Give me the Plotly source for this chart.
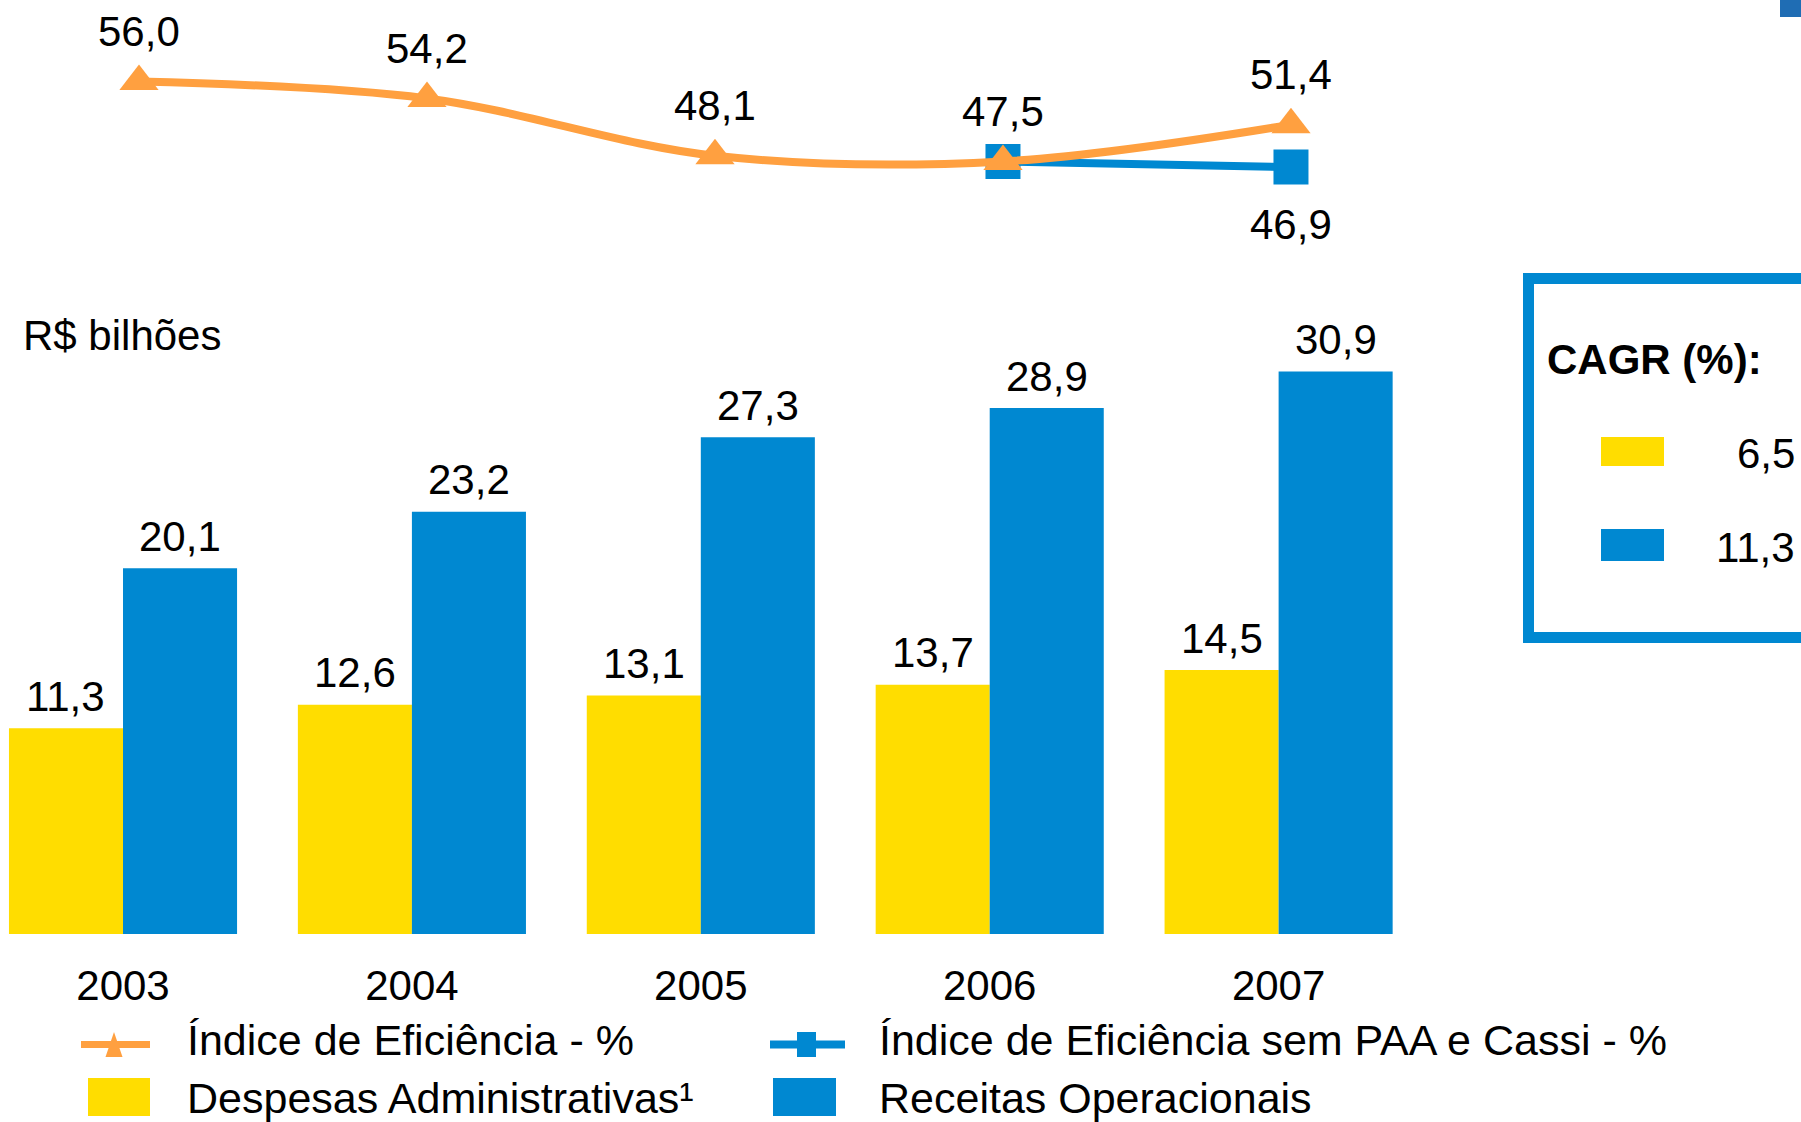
import plotly.graph_objects as go

# ---------------- data ----------------
years = [2003, 2004, 2005, 2006, 2007]
year_labels = ["2003", "2004", "2005", "2006", "2007"]
despesas = [11.3, 12.6, 13.1, 13.7, 14.5]          # Despesas Administrativas (R$ bilhões)
receitas = [20.1, 23.2, 27.3, 28.9, 30.9]          # Receitas Operacionais (R$ bilhões)
indice = [56.0, 54.2, 48.1, 47.5, 51.4]            # Índice de Eficiência - %
indice_sem_years = [2006, 2007]
indice_sem = [47.5, 46.9]                          # Índice de Eficiência sem PAA e Cassi - %
cagr_values = ["6,5", "11,3"]                      # CAGR (%) despesas, receitas

name_indice = "Índice de Eficiência - %"
name_indice_sem = "Índice de Eficiência sem PAA e Cassi - %"
name_despesas = "Despesas Administrativas¹"
name_receitas = "Receitas Operacionais"
unit_label = "R$ bilhões"
cagr_title = "CAGR (%):"

# ---------------- style ----------------
W, H = 1801, 1122
YELLOW = "#FFDD00"
BLUE = "#0088D1"
ORANGE = "#FFA040"
FONT = "Liberation Sans, Arial, sans-serif"
FS = 42
BARGAP = 0.2105
BAR_PX = 288.9 * (1 - BARGAP) / 2   # pixel width of one bar


def X(px):
    return px / W


def Y(py):
    return 1 - py / H


def br(v):
    return f"{v:.1f}".replace(".", ",")


fig = go.Figure()

fig.add_trace(go.Bar(
    x=years, y=despesas, name=name_despesas,
    marker=dict(color=YELLOW, line=dict(width=0)), showlegend=False,
))
fig.add_trace(go.Bar(
    x=years, y=receitas, name=name_receitas,
    marker=dict(color=BLUE, line=dict(width=0)), showlegend=False,
))
fig.add_trace(go.Scatter(
    x=indice_sem_years, y=indice_sem, name=name_indice_sem,
    xaxis="x2", yaxis="y2", mode="lines+markers",
    line=dict(color=BLUE, width=8),
    marker=dict(symbol="square", size=35, color=BLUE),
    cliponaxis=False, showlegend=False,
))
fig.add_trace(go.Scatter(
    x=years, y=indice, name=name_indice,
    xaxis="x2", yaxis="y2", mode="lines+markers",
    line=dict(color=ORANGE, width=8, shape="spline", smoothing=1),
    marker=dict(symbol="triangle-up", size=34, color=ORANGE),
    cliponaxis=False, showlegend=False,
))

txtfont = dict(size=FS, color="black", family=FONT)
annotations = []

# bar value labels
for yr, v in zip(years, despesas):
    annotations.append(dict(x=yr, y=v, xref="x", yref="y", text=br(v), showarrow=False,
                            xshift=-BAR_PX / 2, yshift=32, yanchor="middle", font=txtfont))
for yr, v in zip(years, receitas):
    annotations.append(dict(x=yr, y=v, xref="x", yref="y", text=br(v), showarrow=False,
                            xshift=BAR_PX / 2, yshift=32, yanchor="middle", font=txtfont))

# line value labels
for yr, v in zip(years, indice):
    annotations.append(dict(x=yr, y=v, xref="x2", yref="y2", text=br(v),
                            showarrow=False, yshift=50, yanchor="middle", font=txtfont))
indice_by_year = dict(zip(years, indice))
for yr, v in zip(indice_sem_years, indice_sem):
    if indice_by_year.get(yr) != v:
        annotations.append(dict(x=yr, y=v, xref="x2", yref="y2", text=br(v),
                                showarrow=False, yshift=-57, yanchor="middle", font=txtfont))

annotations.append(dict(x=X(21), y=Y(335), xref="paper", yref="paper", text=unit_label,
                        showarrow=False, xanchor="left", yanchor="middle", font=txtfont))

# CAGR box
annotations.append(dict(x=X(1545), y=Y(359), xref="paper", yref="paper",
                        text="<b>" + cagr_title + "</b>", showarrow=False,
                        xanchor="left", yanchor="middle", font=txtfont))
annotations.append(dict(x=X(1797), y=Y(453), xref="paper", yref="paper", text=cagr_values[0],
                        showarrow=False, xanchor="right", yanchor="middle", font=txtfont))
annotations.append(dict(x=X(1797), y=Y(547), xref="paper", yref="paper", text=cagr_values[1],
                        showarrow=False, xanchor="right", yanchor="middle", font=txtfont))

# legend texts
LFS = 43
for txt, px, py in [(name_indice, 185, 1040), (name_indice_sem, 877, 1040),
                    (name_despesas, 185, 1098), (name_receitas, 877, 1098)]:
    annotations.append(dict(x=X(px), y=Y(py), xref="paper", yref="paper", text=txt,
                            showarrow=False, xanchor="left", yanchor="middle",
                            font=dict(size=LFS, color="black", family=FONT)))

shapes = [
    # CAGR box
    dict(type="rect", xref="paper", yref="paper", x0=X(1528.5), x1=X(1850),
         y0=Y(278.5), y1=Y(637.5), line=dict(color=BLUE, width=11), fillcolor="rgba(0,0,0,0)"),
    dict(type="rect", xref="paper", yref="paper", x0=X(1601), x1=X(1664),
         y0=Y(466), y1=Y(437), line=dict(width=0), fillcolor=YELLOW),
    dict(type="rect", xref="paper", yref="paper", x0=X(1601), x1=X(1664),
         y0=Y(561), y1=Y(529), line=dict(width=0), fillcolor=BLUE),
    # legend symbols
    dict(type="line", xref="paper", yref="paper", x0=X(81), x1=X(150),
         y0=Y(1044.5), y1=Y(1044.5), line=dict(color=ORANGE, width=7)),
    dict(type="path", xref="paper", yref="paper",
         path=f"M {X(105.5)},{Y(1057)} L {X(114)},{Y(1032)} L {X(122.5)},{Y(1057)} Z",
         line=dict(width=0), fillcolor=ORANGE),
    dict(type="line", xref="paper", yref="paper", x0=X(770), x1=X(845),
         y0=Y(1044.5), y1=Y(1044.5), line=dict(color=BLUE, width=8)),
    dict(type="rect", xref="paper", yref="paper", x0=X(797), x1=X(816),
         y0=Y(1057), y1=Y(1032), line=dict(width=0), fillcolor=BLUE),
    dict(type="rect", xref="paper", yref="paper", x0=X(88), x1=X(150),
         y0=Y(1116), y1=Y(1078), line=dict(width=0), fillcolor=YELLOW),
    dict(type="rect", xref="paper", yref="paper", x0=X(773), x1=X(836),
         y0=Y(1116), y1=Y(1078), line=dict(width=0), fillcolor=BLUE),
    # decorative corner fragment (top right)
    dict(type="rect", xref="paper", yref="paper", x0=X(1780), x1=X(1810),
         y0=Y(17), y1=Y(-5), line=dict(width=0), fillcolor="#1F6DB4"),
]

fig.update_layout(
    width=W, height=H, autosize=False,
    margin=dict(l=0, r=0, t=0, b=0, pad=0),
    paper_bgcolor="white", plot_bgcolor="rgba(0,0,0,0)",
    font=dict(family=FONT, size=FS, color="black"),
    barmode="group", bargap=BARGAP, bargroupgap=0,
    showlegend=False,
    xaxis=dict(type="linear", domain=[0, 1],
               range=[years[0] - 0.4258, years[0] + 5.8082], anchor="y",
               tickvals=years, ticktext=year_labels,
               showgrid=False, zeroline=False, showline=False, ticks="",
               tickfont=txtfont, ticklabelstandoff=23, automargin=False, fixedrange=True),
    yaxis=dict(domain=[Y(934), Y(297)], range=[0, 35], visible=False,
               anchor="x", fixedrange=True),
    xaxis2=dict(type="linear", domain=[0, 1],
                range=[years[0] - 0.4826, years[0] + 5.7709], anchor="y2",
                visible=False, fixedrange=True),
    yaxis2=dict(domain=[Y(194.3), Y(62.7)], range=[44, 58], anchor="x2",
                visible=False, fixedrange=True),
    annotations=annotations,
    shapes=shapes,
)

fig.write_html(
    "out.html",
    config={"displayModeBar": False},
    post_script="document.body.style.margin='0';document.body.style.overflow='hidden';",
)
